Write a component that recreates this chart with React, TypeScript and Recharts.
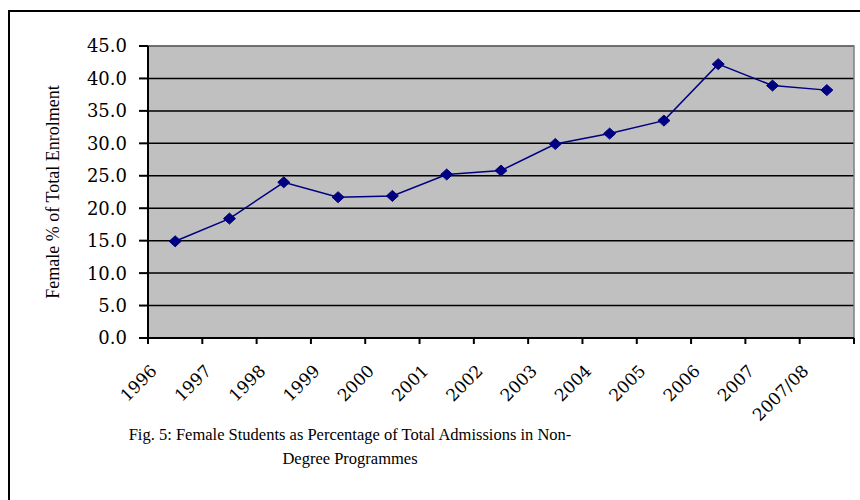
import { LineChart, Line, XAxis, YAxis, CartesianGrid, ReferenceArea } from 'recharts';

const years = ['1996', '1997', '1998', '1999', '2000', '2001', '2002', '2003', '2004', '2005', '2006', '2007', '2007/08'];
const femaleShare = [14.9, 18.4, 24.0, 21.7, 21.9, 25.2, 25.8, 29.9, 31.5, 33.5, 42.2, 38.9, 38.2];
const yTicks = [0, 5, 10, 15, 20, 25, 30, 35, 40, 45];

// points sit in the middle of each category, ticks on the boundaries
const chartData = years.map((year, i) => ({ pos: i + 0.5, year, value: femaleShare[i] }));
const xTicks = years.map((_, i) => i).concat(years.length);

const tickFont = '"DejaVu Serif", serif';

const Diamond = ({ cx, cy }: any) => {
  if (cx == null || cy == null) return null;
  return (
    <polygon
      points={`${cx},${cy - 5.5} ${cx + 6},${cy} ${cx},${cy + 5.5} ${cx - 6},${cy}`}
      fill="#000080"
      stroke="#000080"
    />
  );
};

const YearTick = ({ x, y, payload }: any) => {
  const label = years[payload.value];
  if (!label) return null;
  return (
    <g transform={`translate(${x + 10},${y + 28})`}>
      <text textAnchor="end" transform="rotate(-45)" fontFamily={tickFont} fontSize={17} fill="#000">
        {label}
      </text>
    </g>
  );
};

const App = () => {
  return (
    <div style={{ position: 'absolute', left: 0, top: 0, width: 860, height: 500, background: '#fff' }}>
      <div
        style={{
          position: 'absolute',
          left: 8,
          top: 10,
          width: 852,
          height: 490,
          borderLeft: '2px solid #000',
          borderTop: '2px solid #000',
          boxSizing: 'border-box',
        }}
      />
      <div style={{ position: 'absolute', left: 0, top: 0 }}>
        <LineChart width={860} height={500} data={chartData} margin={{ top: 46, right: 6, left: 0, bottom: 102 }}>
          <CartesianGrid vertical={false} stroke="#000" strokeWidth={1.5} fill="#C0C0C0" fillOpacity={1} />
          <ReferenceArea x1={0} x2={13} y1={0} y2={45} fill="none" stroke="#808080" strokeWidth={1.5} />
          <XAxis
            type="number"
            dataKey="pos"
            domain={[0, 13]}
            ticks={xTicks}
            interval={0}
            height={60}
            tick={<YearTick />}
            tickSize={6}
            tickMargin={0}
            stroke="#000"
            axisLine={{ stroke: '#000', strokeWidth: 2 }}
            tickLine={{ stroke: '#000', strokeWidth: 2 }}
          />
          <YAxis
            width={148}
            domain={[0, 45]}
            ticks={yTicks}
            interval={0}
            tickFormatter={(v: number) => v.toFixed(1)}
            tickSize={9}
            tickMargin={12}
            tick={{ fontFamily: tickFont, fontSize: 18, fill: '#000' }}
            axisLine={{ stroke: '#000', strokeWidth: 2 }}
            tickLine={{ stroke: '#000', strokeWidth: 2 }}
            label={{
              value: 'Female % of Total Enrolment',
              angle: -90,
              position: 'insideLeft',
              offset: 53,
              style: { fontFamily: '"Liberation Serif", serif', fontSize: 18, fill: '#000', textAnchor: 'middle' },
            }}
          />
          <Line
            type="linear"
            dataKey="value"
            stroke="#000080"
            strokeWidth={1.5}
            dot={<Diamond />}
            activeDot={false}
            isAnimationActive={false}
          />
        </LineChart>
      </div>
      <div
        style={{
          position: 'absolute',
          left: 50,
          width: 600,
          top: 423,
          textAlign: 'center',
          fontFamily: '"Liberation Serif", serif',
          fontSize: 16.5,
          lineHeight: '24px',
          color: '#000',
        }}
      >
        Fig. 5: Female Students as Percentage of Total Admissions in Non-
        <br />
        Degree Programmes
      </div>
    </div>
  );
};

export default App;
